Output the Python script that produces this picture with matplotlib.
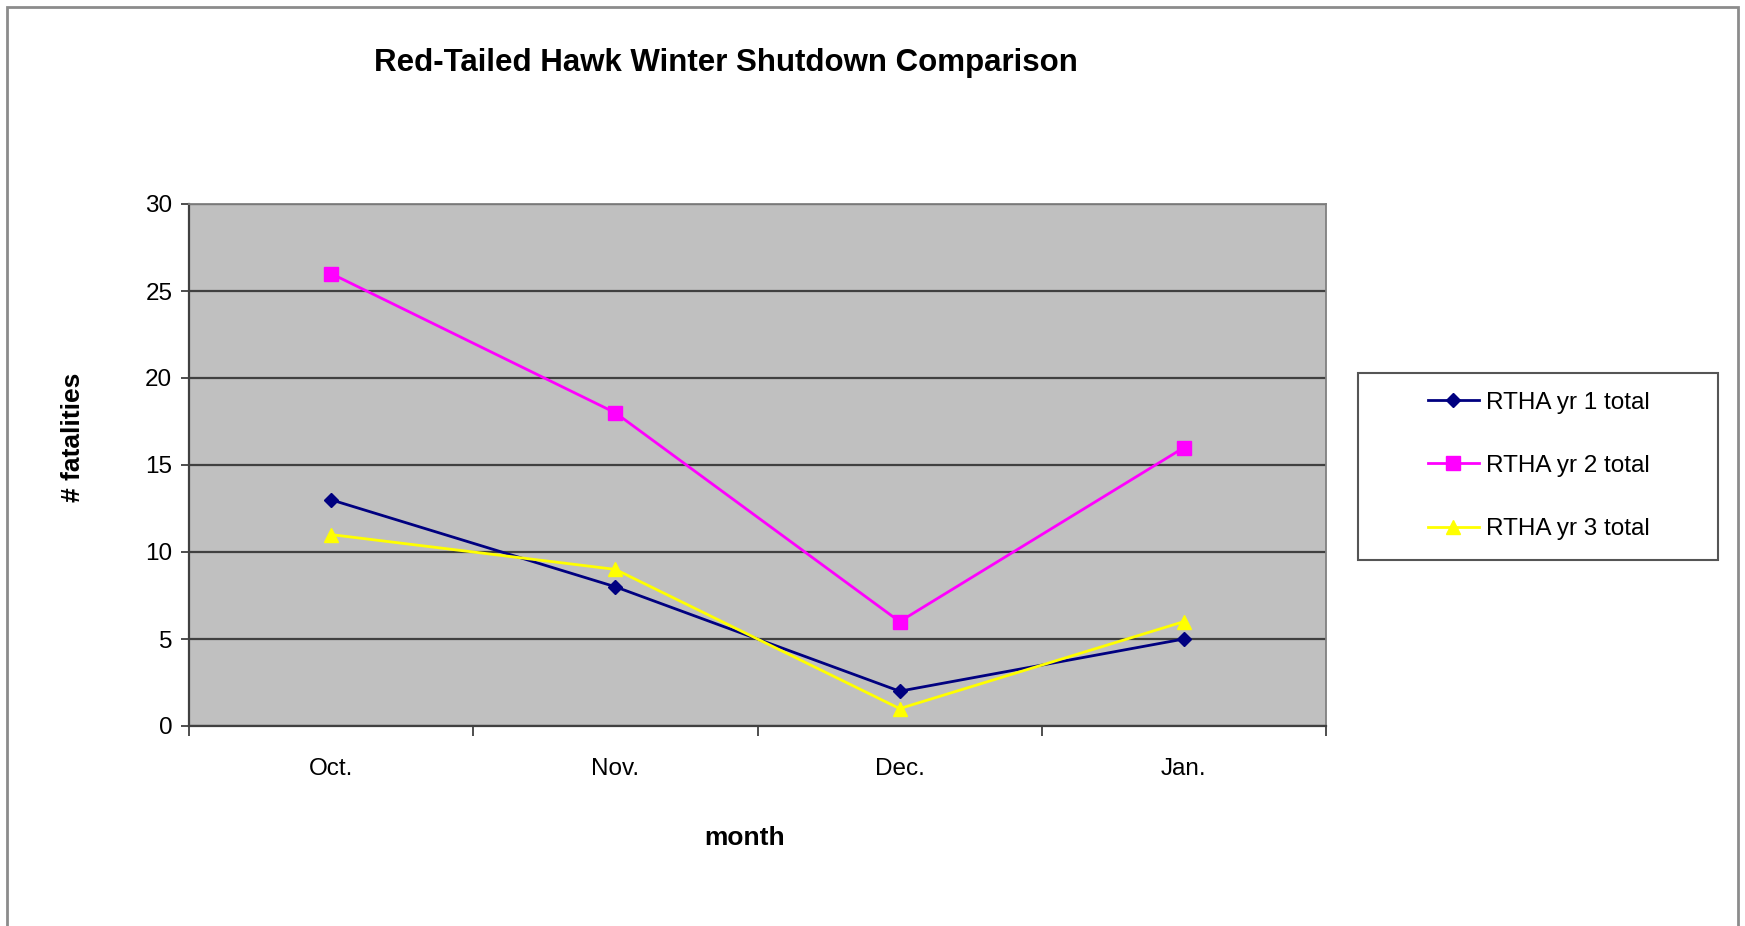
import matplotlib.pyplot as plt
from matplotlib.patches import Rectangle
import numpy as np

plt.rcParams['font.family'] = ['Liberation Sans', 'DejaVu Sans']

months = ['Oct.', 'Nov.', 'Dec.', 'Jan.']
yr1 = [13, 8, 2, 5]
yr2 = [26, 18, 6, 16]
yr3 = [11, 9, 1, 6]
labels = ['RTHA yr 1 total', 'RTHA yr 2 total', 'RTHA yr 3 total']
yticks = [0, 5, 10, 15, 20, 25, 30]

W, H = 1745, 926
fig = plt.figure(figsize=(W / 100, H / 100), dpi=100)

def fx(px):
    return px / W

def fy(py):
    return 1 - py / H

# outer chart frame (bottom cut off)
fig.patches.append(Rectangle((fx(7), -0.05), fx(1738) - fx(7), fy(7) + 0.05,
                             transform=fig.transFigure, fill=False,
                             edgecolor='#8c8c8c', linewidth=2))

ax = fig.add_axes([fx(189), fy(726), fx(1326) - fx(189), fy(204) - fy(726)])
ax.set_facecolor('#c0c0c0')

x = np.arange(len(months))
ax.plot(x, yr1, color='#000080', marker='D', markersize=7, linewidth=2, label=labels[0])
ax.plot(x, yr2, color='#ff00ff', marker='s', markersize=9.5, linewidth=2, label=labels[1])
ax.plot(x, yr3, color='#ffff00', marker='^', markersize=10, linewidth=2, label=labels[2])

ax.set_xlim(-0.5, len(months) - 0.5)
ax.set_ylim(0, 30)
ax.set_yticks(yticks)
ax.yaxis.grid(True, color='#404040', linewidth=1.6)
ax.set_axisbelow(True)

ax.set_xticks(np.arange(-0.5, len(months)))
ax.set_xticklabels([])
ax.set_xticks(x, minor=True)
ax.set_xticklabels(months, minor=True)
ax.tick_params(axis='x', which='major', length=7, width=1.3, color='#404040', direction='out')
ax.tick_params(axis='x', which='minor', length=0, pad=23, labelsize=17.5)
ax.tick_params(axis='y', length=6, width=1.3, color='#404040', pad=6, labelsize=17.5)

for side in ['left', 'bottom']:
    ax.spines[side].set_color('#404040')
    ax.spines[side].set_linewidth(1.6)
for side in ['top', 'right']:
    ax.spines[side].set_color('#808080')
    ax.spines[side].set_linewidth(1.3)

fig.text(fx(726), fy(63), 'Red-Tailed Hawk Winter Shutdown Comparison',
         ha='center', va='center', fontsize=22.5, fontweight='bold')
fig.text(fx(745), fy(838), 'month', ha='center', va='center', fontsize=19, fontweight='bold')
fig.text(fx(73), fy(437), '# fatalities', ha='center', va='center', rotation=90,
         fontsize=19, fontweight='bold')

# legend box
fig.patches.append(Rectangle((fx(1358), fy(560)), fx(1718) - fx(1358), fy(373) - fy(560),
                             transform=fig.transFigure, facecolor='white',
                             edgecolor='#555555', linewidth=1.5))
handles, labs = ax.get_legend_handles_labels()
fig.legend(handles, labs, loc='center', bbox_to_anchor=(fx(1539), fy(466)),
           frameon=False, fontsize=17.5, handlelength=2.1, handletextpad=0.3,
           labelspacing=1.7, markerscale=1.0)

fig.savefig('out.png', dpi=100, facecolor='white')
